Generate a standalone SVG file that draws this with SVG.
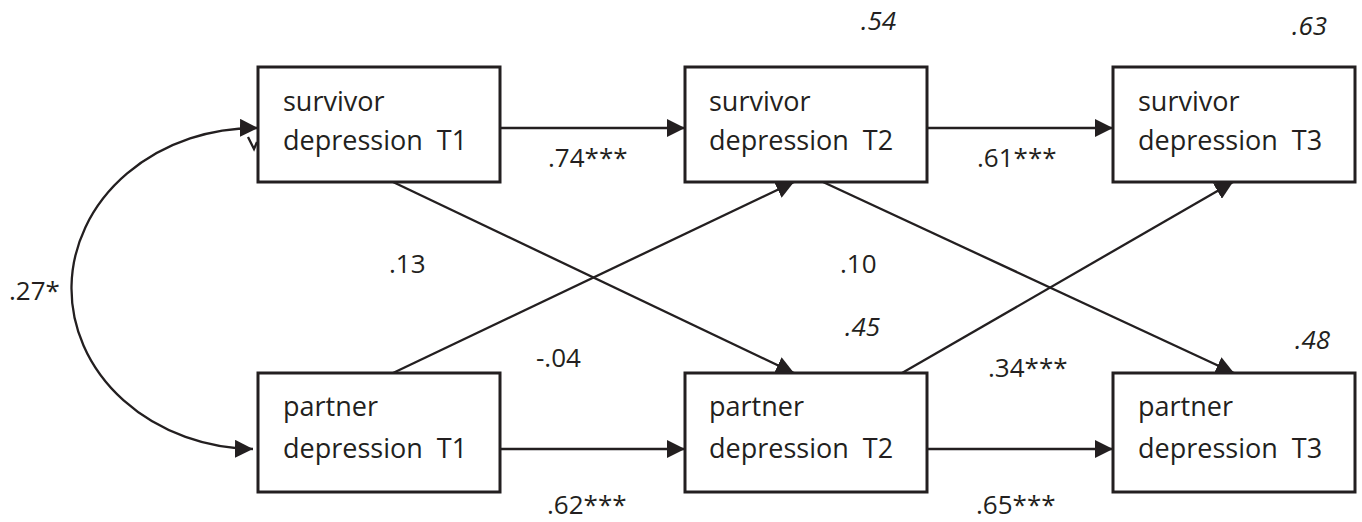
<svg xmlns="http://www.w3.org/2000/svg" width="1362" height="522" viewBox="0 0 1362 522">
<style>
.box{fill:#fff;stroke:#231f20;stroke-width:3}
.ln{fill:none;stroke:#231f20;stroke-width:2.3}
.t{font-family:"Open Sans","DejaVu Sans",sans-serif;font-size:26px;fill:#231f20}
.n{font-size:27px}
.i{font-style:italic}
</style>
<defs>
<marker id="ah" markerUnits="userSpaceOnUse" markerWidth="18" markerHeight="18" viewBox="0 0 17 17" refX="17" refY="8.5" orient="auto-start-reverse">
<path d="M0,0 L17,8.5 L0,17 Z" fill="#231f20"/>
</marker>
</defs>
<rect width="1362" height="522" fill="#fff"/>
<g id="connectors">
<path class="ln" d="M258,128 A184,160.5 0 0 0 253,449" marker-start="url(#ah)" marker-end="url(#ah)"/>
<polyline class="ln" points="248,137 254,149 257,142"/>
<line class="ln" x1="500" y1="128" x2="685" y2="128" marker-end="url(#ah)"/>
<line class="ln" x1="927" y1="128" x2="1113" y2="128" marker-end="url(#ah)"/>
<line class="ln" x1="500" y1="449" x2="685" y2="449" marker-end="url(#ah)"/>
<line class="ln" x1="927" y1="449" x2="1113" y2="449" marker-end="url(#ah)"/>
<line class="ln" x1="393" y1="182" x2="794" y2="373" marker-end="url(#ah)"/>
<line class="ln" x1="393" y1="373" x2="794" y2="182" marker-end="url(#ah)"/>
<line class="ln" x1="823" y1="182" x2="1234" y2="373" marker-end="url(#ah)"/>
<line class="ln" x1="902" y1="373" x2="1233" y2="182" marker-end="url(#ah)"/>
</g>
<g id="labels">
<text class="t" x="548" y="167">.74***</text>
<text class="t" x="977" y="167">.61***</text>
<text class="t" x="547" y="514">.62***</text>
<text class="t" x="976" y="514">.65***</text>
<text class="t" x="389" y="273">.13</text>
<text class="t" x="840" y="273">.10</text>
<text class="t" x="536" y="367">-.04</text>
<text class="t" x="988" y="377">.34***</text>
<text class="t" x="9" y="300">.27*</text>
<text class="t i" x="861" y="30">.54</text>
<text class="t i" x="1292" y="35">.63</text>
<text class="t i" x="845" y="336">.45</text>
<text class="t i" x="1295" y="349">.48</text>
</g>
<g id="survivor-t1">
<rect class="box" x="258" y="67" width="242" height="115"/>
<text class="t n" x="283" y="111">survivor</text>
<text class="t n" x="283" y="150" xml:space="preserve">depression  T1</text>
</g>
<g id="survivor-t2">
<rect class="box" x="685" y="67" width="242" height="115"/>
<text class="t n" x="709" y="111">survivor</text>
<text class="t n" x="709" y="150" xml:space="preserve">depression  T2</text>
</g>
<g id="survivor-t3">
<rect class="box" x="1113" y="67" width="242" height="115"/>
<text class="t n" x="1138" y="111">survivor</text>
<text class="t n" x="1138" y="150" xml:space="preserve">depression  T3</text>
</g>
<g id="partner-t1">
<rect class="box" x="258" y="373" width="242" height="119"/>
<text class="t n" x="283" y="416">partner</text>
<text class="t n" x="283" y="458" xml:space="preserve">depression  T1</text>
</g>
<g id="partner-t2">
<rect class="box" x="685" y="373" width="242" height="119"/>
<text class="t n" x="709" y="416">partner</text>
<text class="t n" x="709" y="458" xml:space="preserve">depression  T2</text>
</g>
<g id="partner-t3">
<rect class="box" x="1113" y="373" width="242" height="119"/>
<text class="t n" x="1138" y="416">partner</text>
<text class="t n" x="1138" y="458" xml:space="preserve">depression  T3</text>
</g>
</svg>
